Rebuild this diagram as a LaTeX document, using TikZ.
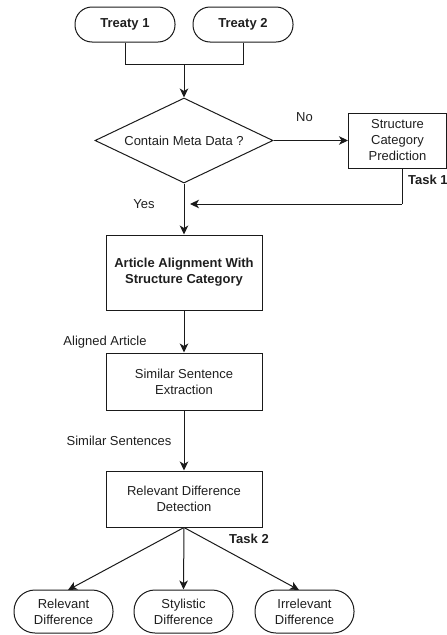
\documentclass[tikz,border=0pt]{standalone}
\usepackage{fontspec}
\setmainfont{Liberation Sans}
\usetikzlibrary{arrows.meta,shapes.geometric}
\definecolor{ln}{HTML}{1A1A1A}
\definecolor{tx}{HTML}{1F1F1F}
\begin{document}
\begin{tikzpicture}[x=1pt,y=-1pt,
  every node/.style={text=tx,font=\fontsize{13}{16}\selectfont},
  term/.style={draw=ln,line width=1pt,rounded corners=17pt,minimum height=35pt,align=center,inner sep=0pt},
  proc/.style={draw=ln,line width=1pt,align=center,inner sep=0pt},
  dec/.style={draw=ln,line width=1pt,diamond,aspect=2.09,inner sep=0pt,minimum width=178pt,minimum height=85pt},
  conn/.style={draw=ln,line width=1pt},
  arr/.style={conn,-{Stealth[length=9pt,width=8.5pt,inset=2.5pt]}},
  lab/.style={inner sep=0pt}]
\useasboundingbox (0,0) rectangle (447,635);
% top terminals
\node[term,minimum width=100pt,minimum height=35pt,font=\fontsize{13}{16}\selectfont\bfseries] (t1) at (125,24.5) {Treaty 1};
\node[term,minimum width=100pt,minimum height=35pt,font=\fontsize{13}{16}\selectfont\bfseries] (t2) at (243,24.5) {Treaty 2};
\coordinate (m1) at (125,64);
\coordinate (m2) at (243,64);
\coordinate (mc) at (184,64);
\draw[conn] (t1.south) -- (m1) -- (m2) -- (t2.south);
% decision
\node[dec] (d) at (184,140.5) {};
\node[lab] at (d.center) {Contain Meta Data ?};
\draw[arr] (mc) -- (d.north);
% structure category prediction
\node[proc,minimum width=98pt,minimum height=55pt] (sp) at (397.5,140.5) {Structure\\Category\\Prediction};
\draw[arr] (d.east) -- (sp.west);
\node[lab] (no) at (304.5,117) {No};
\coordinate (spb) at (402,168);
\coordinate (fb) at (402,204);
\coordinate (fe) at (190,204);
\draw[conn] (spb) -- (fb);
\draw[arr] (fb) -- (fe);
\node[lab,anchor=west,font=\fontsize{13}{16}\selectfont\bfseries] (task1) at (408,180) {Task 1};
\node[lab] (yes) at (144,204) {Yes};
% article alignment
\node[proc,minimum width=156pt,minimum height=75pt,font=\fontsize{13}{16}\selectfont\bfseries] (aa) at (184,272.5) {Article Alignment With\\Structure Category};
\draw[arr] (d.south) -- (aa.north);
% similar sentence extraction
\node[proc,minimum width=156pt,minimum height=57pt] (se) at (184,381.5) {Similar Sentence\\Extraction};
\draw[arr] (aa.south) -- (se.north);
\node[lab] (al) at (105,342) {Aligned Article};
% relevant difference detection
\node[proc,minimum width=156pt,minimum height=56pt] (rd) at (184,499) {Relevant Difference\\Detection};
\draw[arr] (se.south) -- (rd.north);
\node[lab] (ss) at (119,441) {Similar Sentences};
\node[lab,font=\fontsize{13}{16}\selectfont\bfseries] (task2) at (249,539) {Task 2};
% outcomes
\node[term,minimum width=99pt,minimum height=43pt,rounded corners=21pt] (o1) at (63.5,611.5) {Relevant\\Difference};
\node[term,minimum width=99pt,minimum height=43pt,rounded corners=21pt] (o2) at (183.5,611.5) {Stylistic\\Difference};
\node[term,minimum width=99pt,minimum height=43pt,rounded corners=21pt] (o3) at (304.5,611.5) {Irrelevant\\Difference};
\coordinate (o1t) at (68,590);
\coordinate (o3t) at (299,590);
\draw[arr] (rd.south) -- (o1t);
\draw[arr] (rd.south) -- (o2.north);
\draw[arr] (rd.south) -- (o3t);
\end{tikzpicture}
\end{document}
